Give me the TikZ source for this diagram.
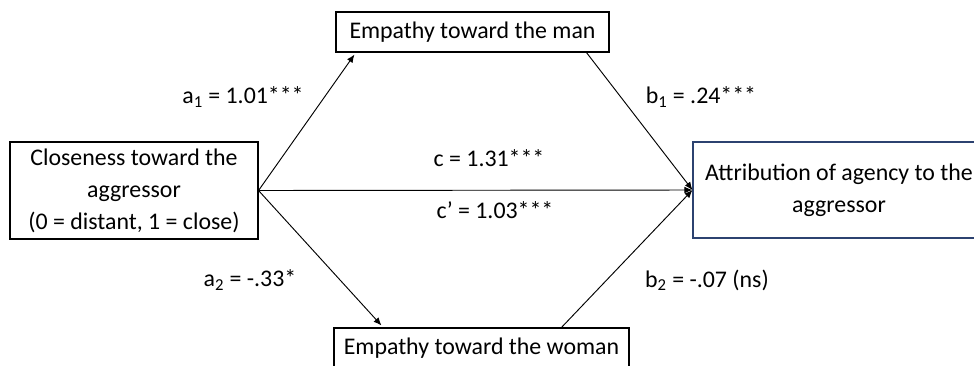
\documentclass[tikz,border=0pt]{standalone}
\usepackage{fontspec}
\setmainfont{Carlito}
\usetikzlibrary{arrows.meta, calc}
\definecolor{framenavy}{RGB}{44,66,112}

\begin{document}
\begin{tikzpicture}[
  x=0.75pt, y=-0.75pt,
  var/.style={draw, thick, font=\fontsize{17.9}{24}\selectfont, align=center, inner sep=0pt},
  lbl/.style={font=\fontsize{17.9}{20}\selectfont, inner sep=0pt},
  arr/.style={-{Latex[length=6pt, width=5pt]}, line width=0.7pt},
]
\useasboundingbox (0,0) rectangle (974,365);
\clip (0,0) rectangle (974,365);

% === Variables ===
\node[var, minimum width=186pt, minimum height=72.75pt] (close) at (134,190.5) {Closeness toward the\\aggressor\\(0 = distant, 1 = close)};
\node[var, minimum width=204.75pt, minimum height=30pt] (man) at (472.5,32) {Empathy toward the man};
\node[var, minimum width=221.25pt, minimum height=30pt] (woman) at (481.5,348) {Empathy toward the woman};
\node[var, draw=framenavy, minimum width=219pt, minimum height=72pt] (agency) at (839,190) {Attribution of agency to the\\aggressor};

% === Paths ===
\draw[arr] (close.east) -- ($(man.south west)+(19,2)$);
\draw[arr] ($(man.south west)+(251,0)$) -- (agency.west);
\draw[arr] (close.east) -- (agency.west);
\draw[arr] (close.east) -- ($(woman.north west)+(48,-2)$);
\draw[arr] ($(woman.north west)+(228,0)$) -- (agency.west);

% Coefficients
\node[lbl] (a1) at (243,97) {a\textsubscript{1} = 1.01***};
\node[lbl] (b1) at (701,97) {b\textsubscript{1} = .24***};
\node[lbl] (c) at (489,158) {c = 1.31***};
\node[lbl] (cp) at (495,210) {c’ = 1.03***};
\node[lbl] (a2) at (250,280) {a\textsubscript{2} = -.33*};
\node[lbl] (b2) at (707,280) {b\textsubscript{2} = -.07 (ns)};
\end{tikzpicture}
\end{document}
